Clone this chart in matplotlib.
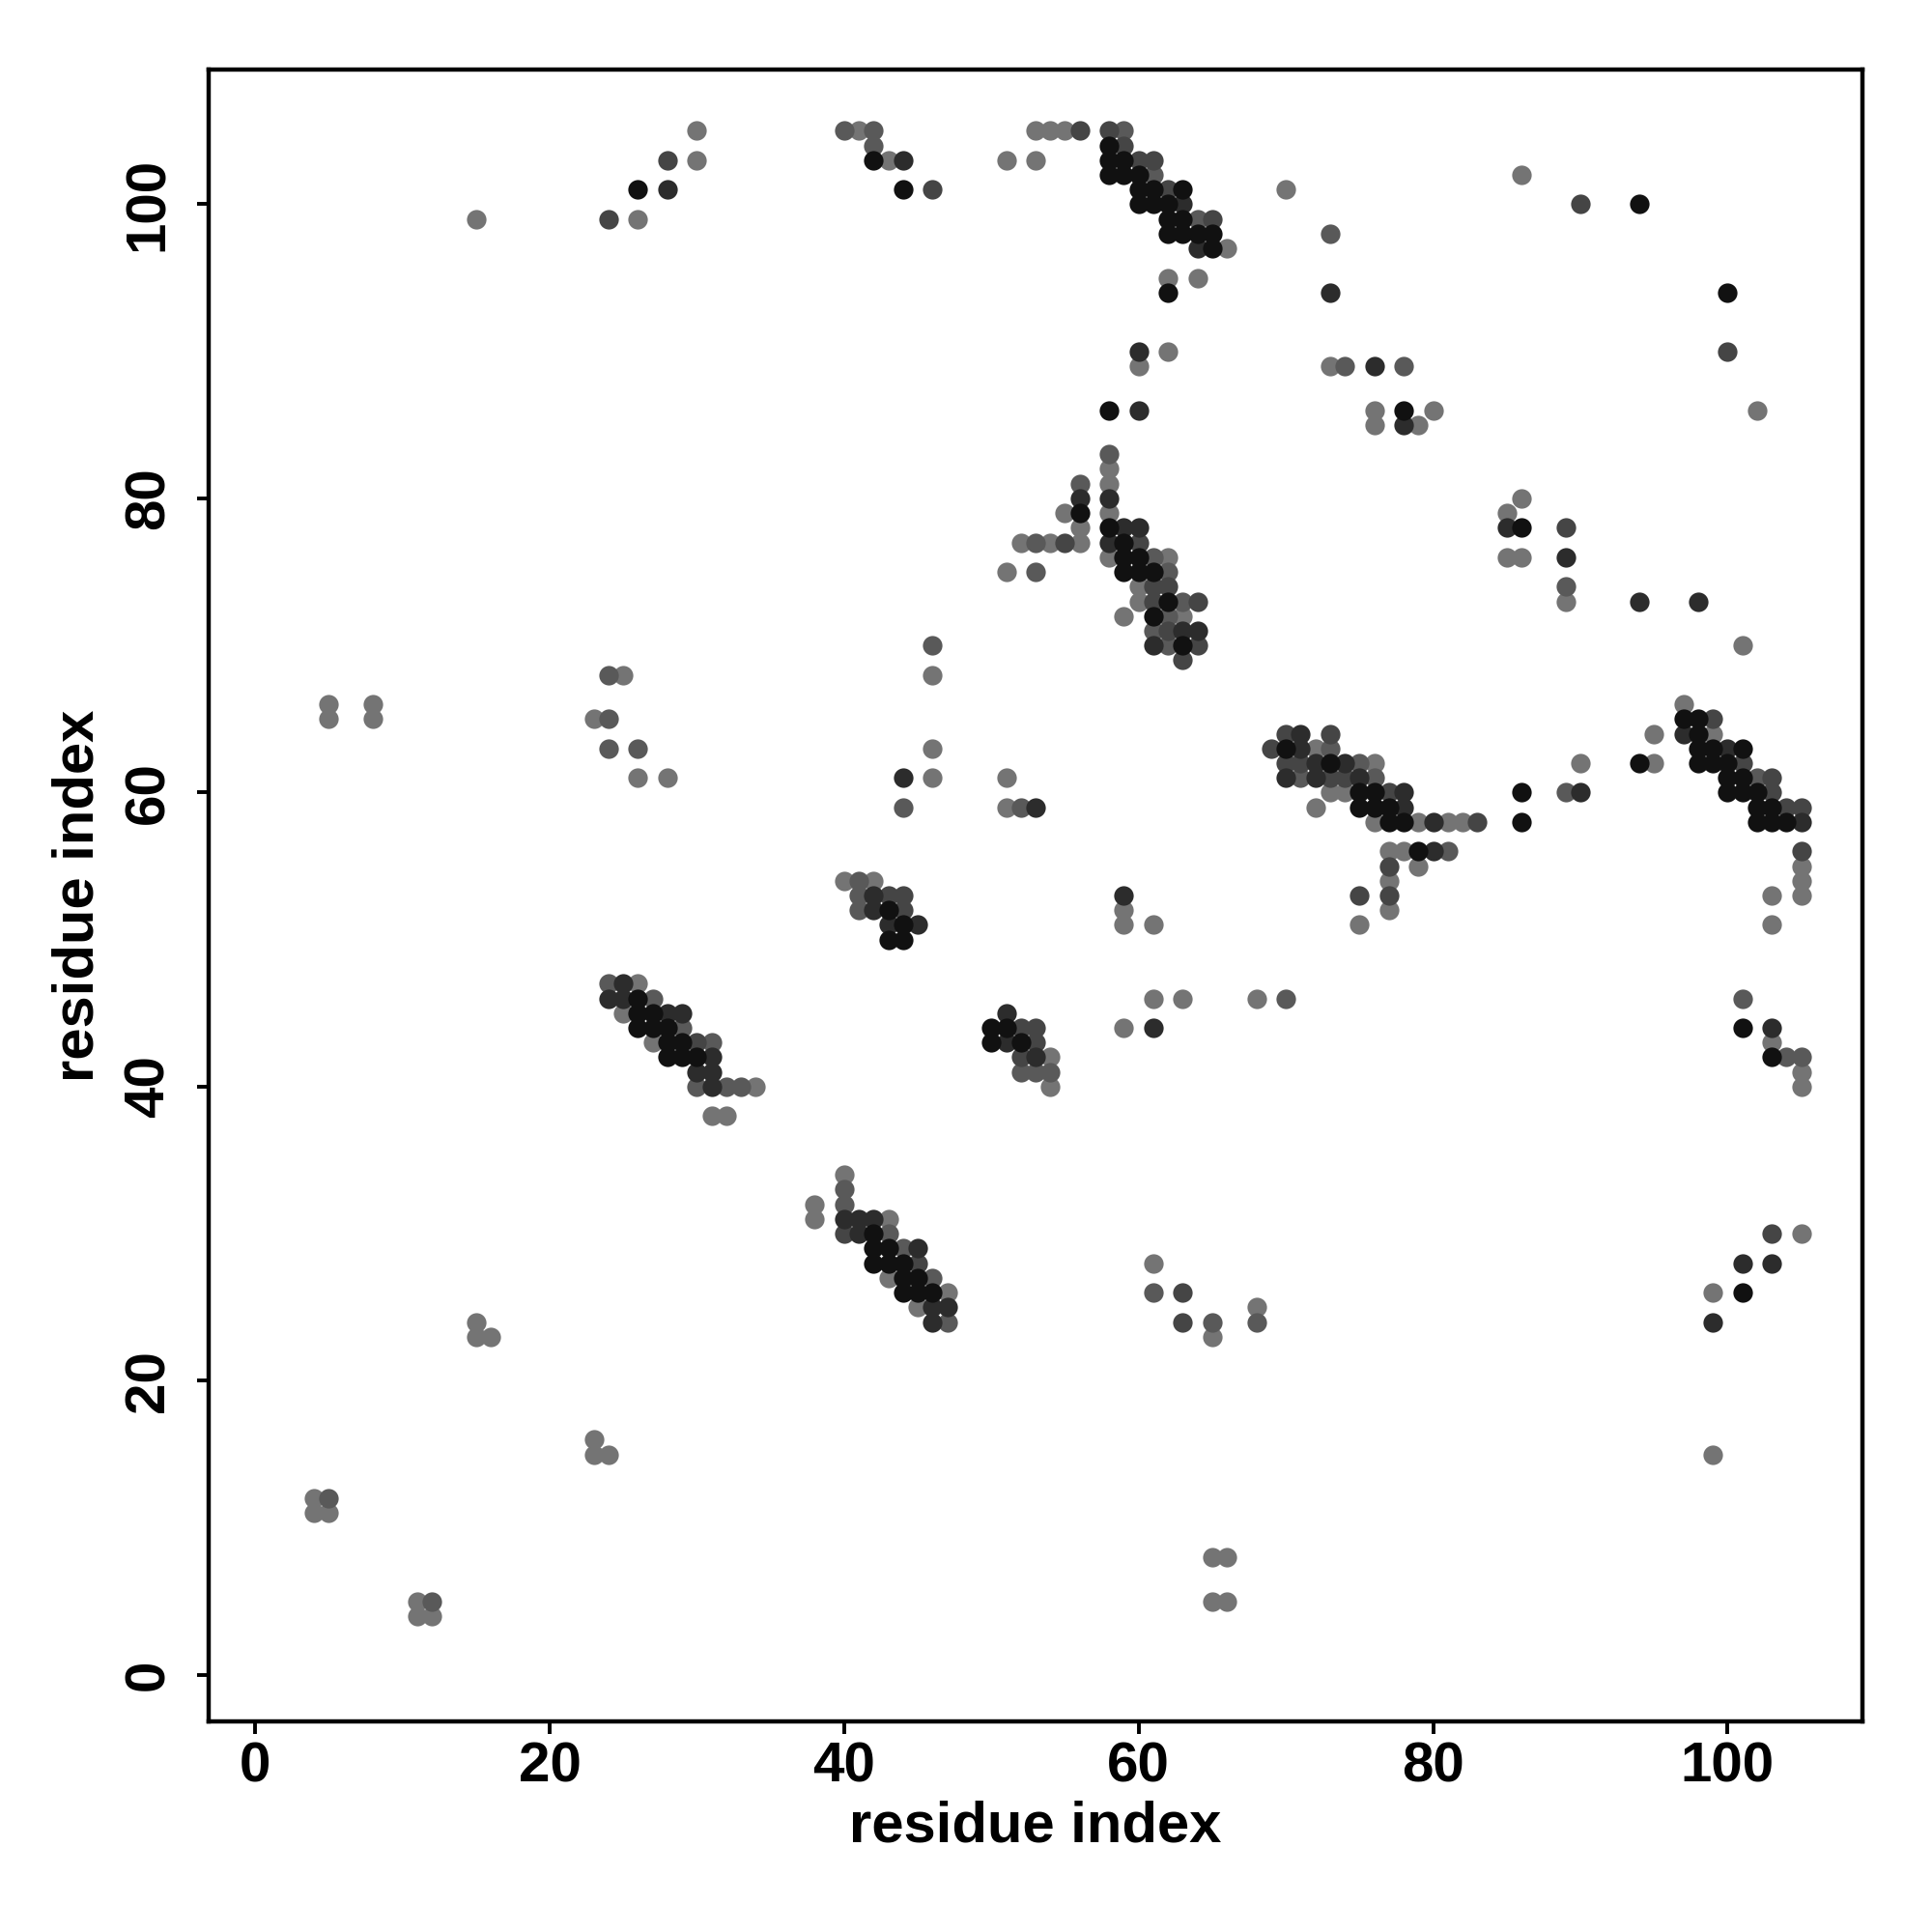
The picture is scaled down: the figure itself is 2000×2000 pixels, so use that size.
import matplotlib
matplotlib.use("Agg")
import matplotlib.pyplot as plt

# contact pairs (residue i, residue j), grouped by how dark the dot is
black_pts = [(26, 46), (26, 45), (27, 45), (26, 44), (27, 44), (28, 44), (28, 43), (29, 43),
             (28, 42), (29, 42), (30, 42),
             (42, 30), (42, 29), (42, 28), (43, 29), (43, 28), (44, 28), (44, 27), (44, 26),
             (45, 27), (45, 26), (46, 26),
             (43, 52), (44, 51), (43, 50), (44, 50),
             (50, 44), (51, 44), (50, 43), (52, 43),
             (58, 78), (56, 79), (59, 77), (59, 76), (59, 75), (60, 76), (60, 75), (61, 75),
             (61, 72), (62, 73), (63, 70),
             (58, 104), (58, 103), (59, 103), (58, 102), (59, 102), (60, 102), (60, 101),
             (61, 101), (63, 101), (60, 100), (61, 100), (62, 100), (62, 99), (63, 99),
             (62, 98), (63, 98), (64, 98), (65, 98), (65, 97), (62, 94),
             (70, 63), (73, 62), (75, 60), (76, 60), (75, 59), (76, 59), (77, 59), (77, 58),
             (78, 58), (79, 56),
             (97, 65), (98, 65), (98, 64), (98, 63), (99, 63), (101, 63), (98, 62), (99, 62),
             (100, 62), (100, 61), (101, 61), (100, 60), (101, 60), (102, 60), (102, 59),
             (103, 59), (102, 58), (103, 58), (104, 58),
             (42, 103), (26, 101), (44, 101), (101, 44), (103, 42), (94, 100), (78, 86),
             (86, 78), (58, 86), (100, 94), (86, 60), (86, 58), (94, 62), (101, 26)]

dark_pts = [(25, 47), (24, 46), (25, 46), (28, 45), (29, 45), (31, 42), (30, 41), (31, 41),
            (31, 40),
            (40, 31), (41, 31), (41, 30), (42, 31), (45, 29), (46, 25), (46, 24), (47, 25),
            (42, 53), (42, 52), (43, 51), (45, 51), (51, 45), (51, 43), (53, 42),
            (58, 80), (58, 77), (56, 80), (59, 78), (60, 78), (61, 70), (63, 71), (64, 71),
            (63, 100), (64, 97),
            (71, 64), (71, 63), (72, 62), (74, 62), (70, 61), (72, 61), (75, 61), (78, 60),
            (78, 59), (80, 58), (80, 56),
            (97, 64), (100, 63), (105, 58),
            (44, 103), (28, 101), (103, 44), (73, 94), (76, 89), (78, 85), (85, 78), (89, 76),
            (94, 73), (98, 73), (60, 90), (60, 86), (44, 61), (53, 59), (59, 53), (61, 44),
            (90, 60), (99, 24), (101, 28), (103, 28)]

mid_pts = [(30, 43), (40, 30), (45, 28),
           (43, 53), (44, 53), (44, 52), (52, 44), (53, 44), (53, 43), (52, 42),
           (55, 77), (60, 77), (61, 74), (61, 73), (62, 74), (62, 71), (63, 69), (64, 73),
           (64, 70),
           (56, 105), (58, 105), (59, 104), (60, 103), (61, 103), (62, 101), (65, 99),
           (70, 64), (73, 64), (69, 63), (70, 62), (71, 62), (73, 61), (74, 61), (77, 60),
           (83, 58), (77, 55), (75, 53), (77, 53),
           (99, 65), (101, 62), (103, 61), (103, 60), (104, 59), (105, 59), (105, 56),
           (28, 103), (46, 101), (24, 99), (90, 100), (89, 78), (100, 90), (63, 26), (63, 24),
           (103, 30)]

gray_pts = [(24, 47), (27, 46), (29, 44), (31, 43), (30, 40), (32, 40), (33, 40),
            (40, 33), (40, 32), (43, 30), (44, 29), (46, 27), (47, 24),
            (41, 54), (41, 53), (41, 52), (52, 41), (53, 41), (54, 41),
            (58, 83), (56, 81), (53, 77), (53, 75), (61, 76), (62, 75), (61, 71), (62, 72),
            (62, 70), (63, 73),
            (59, 105), (61, 102), (64, 99),
            (73, 63), (75, 62), (71, 61), (76, 61), (81, 56),
            (102, 61), (40, 105), (42, 105), (42, 104), (101, 46), (104, 42), (105, 42),
            (73, 98), (74, 89), (78, 89), (89, 74),
            (24, 65), (24, 68), (24, 63), (26, 63), (46, 70), (44, 59), (52, 59), (70, 46),
            (61, 26), (65, 24), (68, 24), (5, 12), (12, 5), (89, 60)]

light_pts = [(26, 47), (25, 45), (27, 43), (34, 40), (31, 38), (32, 38),
             (38, 32), (38, 31), (40, 34), (43, 31), (43, 27), (45, 25), (47, 26),
             (40, 54), (42, 54), (54, 42), (54, 40),
             (58, 82), (58, 81), (58, 79), (58, 76), (56, 78), (56, 77), (55, 79), (54, 77),
             (52, 77), (51, 75), (59, 72), (60, 74), (60, 73), (62, 76), (63, 72),
             (53, 105), (54, 105), (55, 105), (51, 103), (53, 103), (66, 97), (62, 95),
             (64, 95),
             (72, 63), (76, 62), (73, 60), (74, 60), (72, 59), (76, 58), (79, 58), (81, 58),
             (82, 58), (77, 56), (78, 56), (79, 55), (77, 54), (77, 52), (75, 51),
             (97, 66), (99, 64),
             (30, 105), (41, 105), (30, 103), (43, 103), (26, 99), (15, 99),
             (105, 55), (105, 54), (105, 53), (103, 53), (103, 51), (103, 43), (105, 41),
             (105, 40),
             (73, 89), (76, 86), (80, 86), (76, 85), (79, 85), (86, 80), (85, 79), (85, 76),
             (86, 76), (89, 73), (60, 89), (62, 90),
             (5, 66), (5, 65), (8, 66), (8, 65), (23, 65), (25, 68), (26, 61), (28, 61),
             (46, 68), (46, 63), (46, 61), (51, 61), (51, 59), (59, 52), (59, 51), (61, 51),
             (59, 44), (61, 46), (63, 46), (68, 46), (61, 28), (65, 23), (68, 25),
             (65, 8), (66, 8), (65, 5), (66, 5), (4, 12), (4, 11), (5, 11),
             (11, 5), (11, 4), (12, 4), (15, 24), (15, 23), (16, 23), (23, 16), (23, 15),
             (24, 15), (70, 101), (86, 102), (102, 86), (101, 70), (90, 62), (95, 62),
             (95, 64), (99, 26), (105, 30), (99, 15)]

shades = {"light": "#747474", "gray": "#595959", "mid": "#454545",
          "dark": "#2c2c2c", "black": "#111111"}
groups = [("light", light_pts), ("gray", gray_pts), ("mid", mid_pts),
          ("dark", dark_pts), ("black", black_pts)]

ticks = [0, 20, 40, 60, 80, 100]

plt.rcParams['font.family'] = ['Liberation Sans', 'DejaVu Sans']
plt.rcParams['font.weight'] = 'bold'

fig = plt.figure(figsize=(10, 10), dpi=200)
ax = fig.add_axes([0.108, 0.109, 0.856, 0.855])

for name, pts in groups:
    xs = [p[0] for p in pts]
    ys = [p[1] for p in pts]
    ax.scatter(xs, ys, s=53, c=shades[name], linewidths=0, zorder=3)

ax.set_xlim(-3.16, 109.16)
ax.set_ylim(-3.16, 109.16)
ax.set_xticks(ticks)
ax.set_yticks(ticks)
ax.tick_params(direction='out', length=4.5, width=1.4, labelsize=21, pad=3)
ax.tick_params(axis='y', pad=8)
for lab in ax.get_yticklabels():
    lab.set_rotation(90)
    lab.set_va('center')
for sp in ax.spines.values():
    sp.set_linewidth(1.6)

ax.set_xlabel('residue index', fontsize=21.5, fontweight='bold', va='center')
ax.set_ylabel('residue index', fontsize=21.5, fontweight='bold', va='center')
ax.xaxis.set_label_coords(0.5, -0.064)
ax.yaxis.set_label_coords(-0.079, 0.5)

fig.savefig('out.png', dpi=200)
